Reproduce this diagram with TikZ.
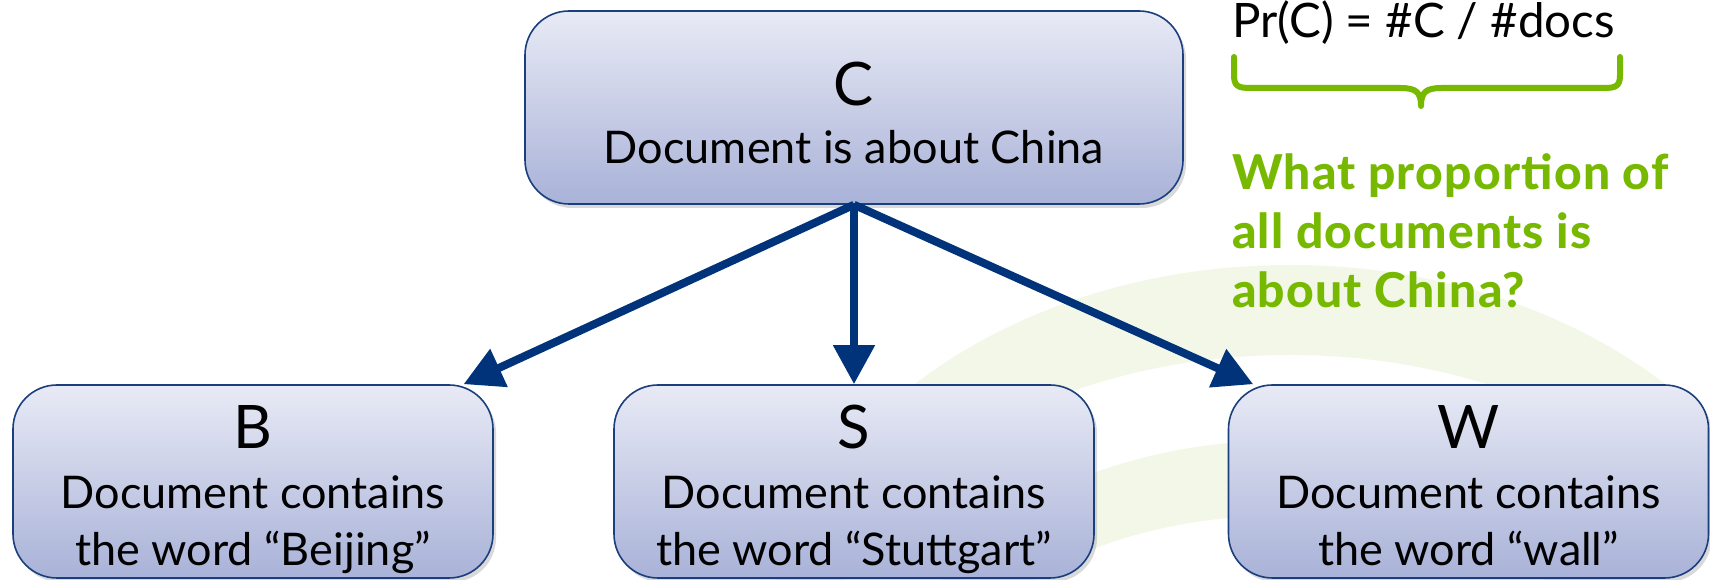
\documentclass[tikz,border=0pt]{standalone}
\usepackage{fontspec}
\setmainfont{Lato}
\newfontfamily\heavyfont{Lato Heavy}
\usetikzlibrary{arrows.meta,shadows}
\definecolor{navy}{HTML}{00337A}
\definecolor{boxline}{HTML}{1B3E7C}
\definecolor{boxtop}{HTML}{E8EAF5}
\definecolor{boxbot}{HTML}{A9B2D8}
\definecolor{leaf}{HTML}{77B900}
\definecolor{swoosh}{HTML}{F3F7E8}
\begin{document}
\begin{tikzpicture}[x=1pt,y=1pt,
  varbox/.style={draw=boxline, line width=1.6pt, rounded corners=44pt, top color=boxtop, bottom color=boxbot, minimum height=193pt, inner sep=0pt, drop shadow={shadow xshift=3pt, shadow yshift=-4pt, opacity=0.3}},
  bigbox/.style={varbox, minimum width=658pt},
  smallbox/.style={varbox, minimum width=480pt},
  title/.style={anchor=base, font=\fontsize{60}{66}\selectfont, inner sep=0pt},
  body/.style={anchor=base, font=\fontsize{45}{58}\selectfont, inner sep=0pt},
  edge/.style={draw=navy, line width=8pt, -{Triangle[width=40pt,length=39pt]}},
  note/.style={anchor=base west, inner sep=0pt, font=\fontsize{47.5}{58}\selectfont},
  question/.style={anchor=base west, inner sep=0pt, text=leaf, font=\heavyfont\fontsize{48}{58}\selectfont\addfontfeature{LetterSpace=2.5}},
]
\useasboundingbox (0,0) rectangle (1710,580);
\begin{scope}
\clip (0,0) rectangle (1710,580);
\fill[swoosh, even odd rule] (1290,-85) ellipse [x radius=527pt, y radius=400pt] (1290,-85) ellipse [x radius=463pt, y radius=310pt];
\fill[swoosh, even odd rule] (1290,-85) ellipse [x radius=377pt, y radius=225pt] (1290,-85) ellipse [x radius=310pt, y radius=150pt];
\end{scope}

\node[bigbox] (C) at (854,472.5) {};
\node[smallbox] (B) at (253,98.5) {};
\node[smallbox] (S) at (854,98.5) {};
\node[smallbox] (W) at (1468.5,98.5) {};

\draw[edge] (C.south) -- (B);
\draw[edge] (C.south) -- (S.north);
\draw[edge] (C.south) -- (W);

\node[title] (Ct) at (854,474) {C};
\node[body] (Cb) at (854,416) {Document is about China};
\node[title] (Bt) at (253,131) {B};
\node[body] (Bb1) at (253,71) {Document contains};
\node[body] (Bb2) at (253,14) {the word “Beijing”};
\node[title] (St) at (854,131) {S};
\node[body] (Sb1) at (854,71) {Document contains};
\node[body] (Sb2) at (854,14) {the word “Stuttgart”};
\node[title] (Wt) at (1468.5,131) {W};
\node[body] (Wb1) at (1468.5,71) {Document contains};
\node[body] (Wb2) at (1468.5,14) {the word “wall”};

\node[note] (pr) at (1232,542) {Pr(C) = \#C / \#docs};
\node[question] (q1) at (1232,390) {What proportion of};
\node[question] (q2) at (1232,331) {all documents is};
\node[question] (q3) at (1232,272) {about China?};

\draw[leaf, line width=6pt, line cap=round, line join=round]
  (1234,523) -- (1234,505) .. controls (1234,494) and (1238,492) .. (1250,492) -- (1400,492) .. controls (1416,492) and (1421,488) .. (1421,474)
  (1620,523) -- (1620,505) .. controls (1620,494) and (1616,492) .. (1604,492) -- (1442,492) .. controls (1426,492) and (1421,488) .. (1421,474);
\end{tikzpicture}
\end{document}
